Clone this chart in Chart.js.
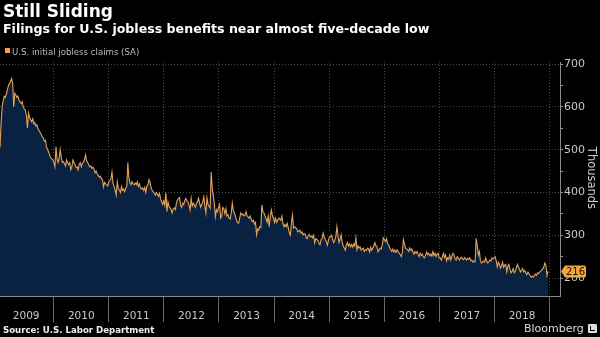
<!DOCTYPE html>
<html>
<head>
<meta charset="utf-8">
<title>Still Sliding</title>
<script src="https://cdn.jsdelivr.net/npm/chart.js@4.4.1/dist/chart.umd.min.js"></script>
<style>
    html, body { margin: 0; padding: 0; background: #000; }
    #wrap { position: relative; width: 600px; height: 337px; overflow: hidden; font-family: 'DejaVu Sans', sans-serif; }
    #chart { position: absolute; left: 0; top: 0; }
    .txt { position: absolute; white-space: nowrap; }
    .title { left: 3px; top: 3px; font-size: 17px; line-height: 17px; font-weight: bold; color: #fff; }
    .subtitle { left: 3px; top: 22px; font-size: 12.6px; line-height: 13px; font-weight: bold; color: #fff; }
    .swatch { position: absolute; left: 5px; top: 48px; width: 5px; height: 5px; background: #f2a14a; }
    .legend { left: 12px; top: 47px; font-size: 8.6px; line-height: 10px; color: #bbb; }
    .units { left: 552px; top: 171px; width: 80px; text-align: center; font-size: 11.5px; line-height: 14px; color: #ccc; transform: rotate(90deg); }
    .source { left: 3px; top: 325px; font-size: 8.6px; line-height: 10px; font-weight: bold; color: #eee; }
    .brand { left: 524px; top: 323px; font-size: 11px; line-height: 12px; color: #ddd; }
    .logo { position: absolute; left: 588px; top: 324px; width: 9px; height: 9px; background: #ddd; border-radius: 1px; }
    .logo i { position: absolute; left: 2px; top: 2px; width: 4px; height: 4px; border-left: 1px solid #000; border-bottom: 1px solid #000; }
</style>
</head>
<body>
<div id="wrap">
    <canvas id="chart" width="600" height="337"></canvas>
    <div class="txt title">Still Sliding</div>
    <div class="txt subtitle">Filings for U.S. jobless benefits near almost five-decade low</div>
    <div class="swatch"></div>
    <div class="txt legend">U.S. initial jobless claims (SA)</div>
    <div class="txt units">Thousands</div>
    <div class="txt source">Source: U.S. Labor Department</div>
    <div class="txt brand">Bloomberg</div>
    <div class="logo"><i></i></div>
</div>
<script>
// Weekly initial claims, thousands (SA), first week ending Jan 10 2009
const claims2009 = [505, 560, 600, 615, 625, 622, 630, 640, 650, 655,
    660, 666, 655, 600, 632, 628, 622, 625, 615, 612,
    608, 612, 600, 595, 592, 580, 551, 586, 575, 570,
    565, 572, 560, 563, 555, 558, 548, 545, 540, 536,
    530, 528, 520, 522, 507, 500, 495, 488, 481, 478,
    476];
const claims2010 = [470, 460, 507, 478, 470, 480, 500, 481, 470, 472,
    468, 462, 476, 470, 465, 470, 453, 460, 476, 470,
    465, 458, 460, 453, 466, 470, 460, 468, 470, 478,
    488, 474, 470, 465, 460, 462, 456, 459, 455, 446,
    450, 443, 440, 436, 438, 432, 430, 413, 424, 420,
    418, 415];
const claims2011 = [425, 428, 432, 448, 422, 415, 405, 394, 425, 410,
    406, 400, 414, 405, 408, 402, 410, 415, 470, 435,
    422, 418, 425, 420, 418, 422, 418, 425, 414, 420,
    410, 408, 411, 405, 412, 400, 415, 418, 430, 424,
    411, 405, 402, 398, 394, 400, 396, 391, 398, 385,
    378, 372, 380];
const claims2012 = [370, 400, 355, 378, 368, 364, 360, 352, 362, 364,
    360, 375, 383, 386, 388, 370, 365, 375, 372, 382,
    386, 380, 378, 370, 359, 386, 368, 375, 370, 365,
    375, 378, 387, 375, 365, 372, 378, 390, 368, 352,
    388, 372, 368, 363, 448, 410, 393, 375, 343, 360,
    355, 364];
const claims2013 = [372, 340, 345, 365, 362, 350, 362, 345, 348, 340,
    338, 352, 375, 358, 352, 345, 335, 330, 328, 340,
    352, 348, 350, 345, 347, 355, 345, 343, 340, 345,
    336, 332, 335, 326, 330, 301, 315, 312, 320, 318,
    371, 355, 352, 345, 338, 330, 345, 320, 345, 359,
    345, 340];
const claims2014 = [330, 340, 330, 335, 340, 338, 335, 345, 328, 320,
    325, 320, 328, 318, 305, 300, 330, 347, 317, 320,
    318, 315, 308, 310, 312, 305, 308, 301, 304, 302,
    294, 292, 300, 302, 296, 298, 294, 300, 282, 292,
    290, 288, 282, 278, 290, 292, 305, 296, 290, 285,
    277, 288];
const claims2015 = [296, 297, 300, 290, 283, 288, 297, 320, 300, 283,
    290, 301, 285, 275, 270, 265, 278, 283, 275, 280,
    273, 278, 272, 280, 275, 294, 266, 275, 270, 273,
    265, 268, 270, 262, 266, 265, 270, 268, 261, 272,
    265, 270, 275, 283, 275, 273, 261, 266, 270, 268,
    278, 294];
const claims2016 = [290, 285, 292, 280, 278, 270, 266, 262, 268, 261,
    265, 260, 266, 262, 258, 255, 250, 260, 290, 280,
    270, 268, 266, 262, 270, 265, 268, 261, 256, 262,
    258, 262, 255, 250, 258, 253, 256, 249, 247, 252,
    261, 255, 258, 252, 256, 251, 262, 253, 258, 250,
    256, 258, 247];
const claims2017 = [247, 242, 250, 258, 248, 254, 240, 247, 244, 254,
    242, 250, 258, 254, 245, 242, 250, 248, 242, 246,
    249, 245, 243, 248, 245, 242, 246, 244, 247, 240,
    242, 237, 240, 238, 293, 275, 254, 262, 240, 235,
    238, 240, 237, 247, 240, 235, 238, 242, 240, 247,
    245, 247];
const claims2018 = [250, 240, 226, 237, 232, 223, 228, 237, 225, 230,
    232, 214, 228, 232, 220, 212, 216, 222, 212, 215,
    224, 232, 226, 220, 214, 218, 222, 214, 218, 212,
    208, 214, 210, 206, 202, 204, 202, 206, 209, 206,
    212, 210, 214, 216, 218, 222, 226, 235, 230, 206,
    216];

const yearLabels = ['2009', '2010', '2011', '2012', '2013', '2014', '2015', '2016', '2017', '2018'];
const yTickValues = [200, 250, 300, 350, 400, 450, 500, 550, 600, 650, 700];

const claims = [].concat(claims2009, claims2010, claims2011, claims2012, claims2013,
    claims2014, claims2015, claims2016, claims2017, claims2018);

// Week-ending dates as decimal years
const firstWeekEnding = Date.UTC(2009, 0, 10);
const weekMs = 7 * 24 * 3600 * 1000;
function toDecimalYear(ms) {
    const y = new Date(ms).getUTCFullYear();
    const start = Date.UTC(y, 0, 1);
    const end = Date.UTC(y + 1, 0, 1);
    return y + (ms - start) / (end - start);
}
const points = claims.map((v, i) => ({ x: toDecimalYear(firstWeekEnding + i * weekMs), y: v }));

const firstYear = parseInt(yearLabels[0], 10);
const isYearStart = (v) => Number.isInteger(v);

// Orange tag with the latest reading on the right axis
const lastValueTag = {
    id: 'lastValueTag',
    afterDraw(chart) {
        const { ctx, chartArea, scales } = chart;
        const value = claims[claims.length - 1];
        const py = Math.round(scales.y.getPixelForValue(value)) + 0.5;
        const x0 = chartArea.right + 1;
        const w = 25, h = 12;
        ctx.save();
        ctx.fillStyle = '#f3a43f';
        ctx.beginPath();
        ctx.moveTo(x0, py);
        ctx.lineTo(x0 + 4, py - h / 2);
        ctx.lineTo(x0 + w - 2, py - h / 2);
        ctx.quadraticCurveTo(x0 + w, py - h / 2, x0 + w, py - h / 2 + 2);
        ctx.lineTo(x0 + w, py + h / 2 - 2);
        ctx.quadraticCurveTo(x0 + w, py + h / 2, x0 + w - 2, py + h / 2);
        ctx.lineTo(x0 + 4, py + h / 2);
        ctx.closePath();
        ctx.fill();
        ctx.fillStyle = '#1c1408';
        ctx.font = '10px "DejaVu Sans"';
        ctx.textAlign = 'center';
        ctx.textBaseline = 'middle';
        ctx.fillText(String(value), x0 + 4 + (w - 4) / 2, py + 0.5);
        ctx.restore();
    }
};

Chart.defaults.font.family = '"DejaVu Sans", sans-serif';

new Chart(document.getElementById('chart').getContext('2d'), {
    type: 'line',
    data: {
        datasets: [{
            label: 'U.S. initial jobless claims (SA)',
            data: points,
            borderColor: '#e2a25a',
            borderWidth: 1.1,
            backgroundColor: '#0a2241',
            fill: 'start',
            pointRadius: 0,
            tension: 0
        }]
    },
    options: {
        responsive: false,
        animation: false,
        layout: { padding: { top: 62, left: 0, right: 0, bottom: 0 } },
        plugins: { legend: { display: false }, tooltip: { enabled: false } },
        scales: {
            x: {
                type: 'linear',
                min: points[0].x,
                max: 2019.19,
                z: 1,
                afterBuildTicks: (scale) => {
                    const ticks = [];
                    yearLabels.forEach((label, k) => {
                        if (k > 0) ticks.push({ value: firstYear + k });
                        ticks.push({ value: firstYear + k + 0.5 });
                    });
                    ticks.push({ value: firstYear + yearLabels.length });
                    scale.ticks = ticks;
                },
                afterFit: (scale) => { scale.height = 41; },
                grid: {
                    color: (ctx) => ctx.tick && isYearStart(ctx.tick.value) ? '#4a4a4a' : 'transparent',
                    tickColor: (ctx) => ctx.tick && isYearStart(ctx.tick.value) ? '#6a6a6a' : 'transparent',
                    tickLength: 26,
                    lineWidth: 1
                },
                border: { display: true, color: '#8a8a8a', width: 1, dash: [1, 2] },
                ticks: {
                    autoSkip: false,
                    maxRotation: 0,
                    padding: -12,
                    color: '#c8c8c8',
                    font: { size: 10.5 },
                    callback: (v) => isYearStart(v) ? '' : yearLabels[Math.floor(v) - firstYear]
                }
            },
            y: {
                position: 'right',
                min: 158,
                max: 705,
                z: 1,
                afterBuildTicks: (scale) => {
                    scale.ticks = yTickValues.map((v) => ({ value: v }));
                },
                afterFit: (scale) => { scale.width = 40; },
                grid: {
                    color: (ctx) => ctx.tick && ctx.tick.value % 100 === 0 ? '#4a4a4a' : 'transparent',
                    tickColor: '#9a9a9a',
                    tickLength: 3,
                    lineWidth: 1
                },
                border: { display: true, color: '#8a8a8a', width: 1, dash: [1, 2] },
                ticks: {
                    padding: 1,
                    color: '#c8c8c8',
                    font: { size: 11 },
                    callback: (v) => v % 100 === 0 ? String(v) : ''
                }
            }
        }
    },
    plugins: [lastValueTag]
});
</script>
</body>
</html>
